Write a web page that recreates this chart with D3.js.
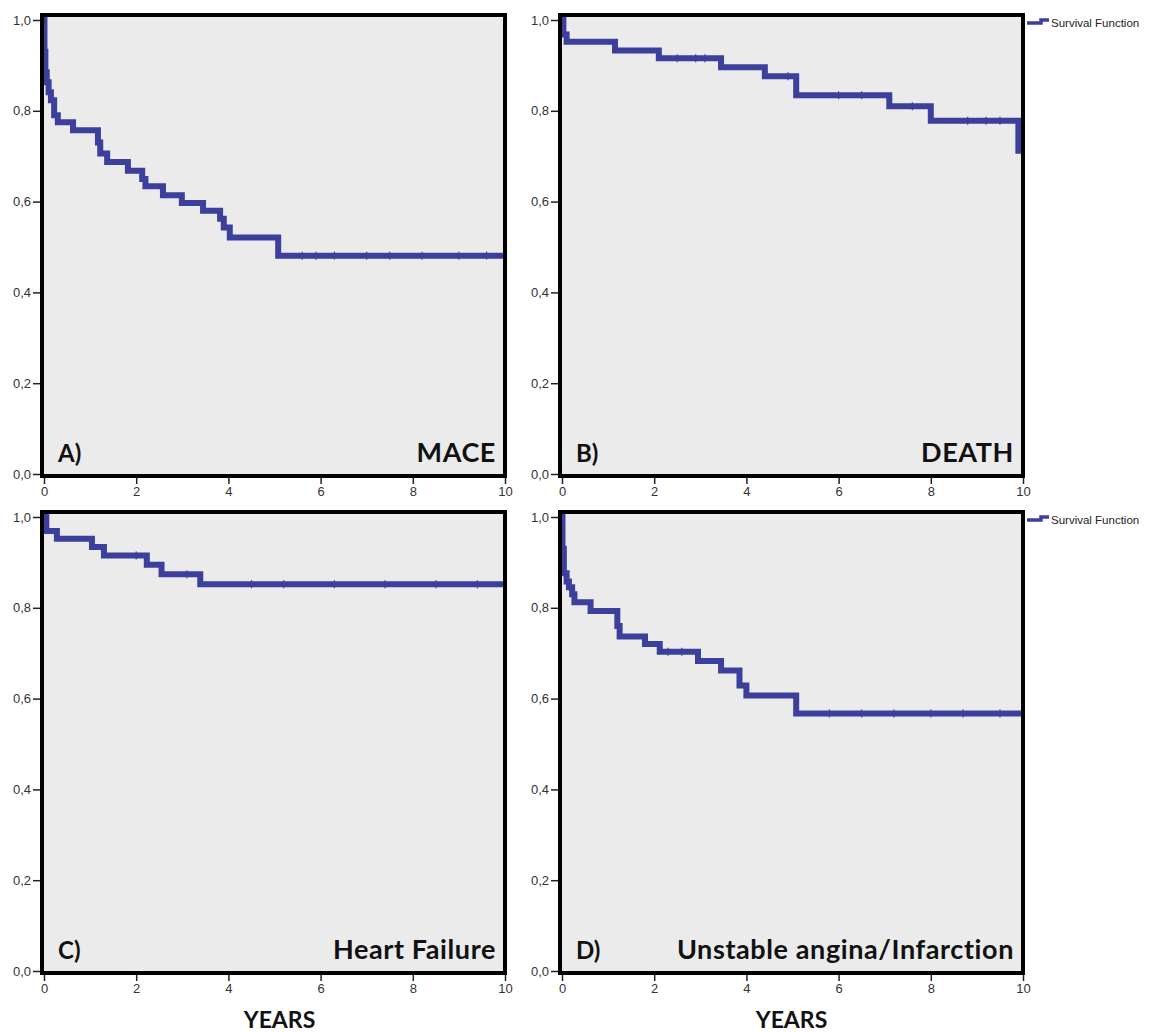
<!DOCTYPE html>
<html>
<head>
<meta charset="utf-8">
<script src="https://cdn.jsdelivr.net/npm/d3@7"></script>
<style>
  body { margin: 0; background: #fff; }
  svg { display: block; }
</style>
</head>
<body>
<svg id="chart" width="1150" height="1032"></svg>
<script>
// Kaplan-Meier steps: time (years) and survival after that time
const maceTimes = [0, 0.01, 0.03, 0.06, 0.1, 0.15, 0.22, 0.3, 0.63, 1.17, 1.22, 1.37, 1.82, 2.13, 2.2, 2.58, 2.99, 3.45, 3.82, 3.9, 4.03, 5.08];
const maceSurv  = [1.0, 0.93, 0.885, 0.863, 0.841, 0.823, 0.79, 0.775, 0.757, 0.73, 0.706, 0.687, 0.668, 0.65, 0.634, 0.614, 0.597, 0.58, 0.562, 0.543, 0.521, 0.481];
const maceCens  = [5.6, 5.9, 6.3, 7.0, 7.5, 8.2, 9.0, 9.6];

const deathTimes = [0, 0.03, 0.1, 1.15, 2.1, 3.45, 4.4, 5.08, 7.1, 8.0, 9.9];
const deathSurv  = [1.0, 0.968, 0.952, 0.933, 0.916, 0.896, 0.876, 0.834, 0.81, 0.778, 0.712];
const deathCens  = [2.5, 2.9, 3.1, 4.9, 6.0, 6.5, 7.6, 8.8, 9.2, 9.5];

const hfTimes = [0, 0.05, 0.28, 1.04, 1.3, 2.23, 2.55, 3.39];
const hfSurv  = [1.0, 0.969, 0.952, 0.934, 0.915, 0.895, 0.874, 0.852];
const hfCens  = [2.0, 3.1, 4.5, 5.2, 6.3, 7.4, 8.5, 9.4];

const uaTimes = [0, 0.01, 0.04, 0.1, 0.15, 0.22, 0.27, 0.62, 1.2, 1.25, 1.8, 2.12, 2.95, 3.45, 3.85, 4.0, 5.08];
const uaSurv  = [1.0, 0.93, 0.876, 0.858, 0.845, 0.83, 0.812, 0.793, 0.76, 0.737, 0.72, 0.703, 0.683, 0.662, 0.629, 0.607, 0.567];
const uaCens  = [2.3, 2.6, 5.8, 6.5, 7.2, 8.0, 8.7, 9.5];

const xTicks = [0, 2, 4, 6, 8, 10];
const yTicks = [0, 0.2, 0.4, 0.6, 0.8, 1.0];
const panelLetters = ["A)", "B)", "C)", "D)"];
const panelTitles = ["MACE", "DEATH", "Heart Failure", "Unstable angina/Infarction"];
const legendLabel = "Survival Function";
const xTitle = "YEARS";

const panels = [
    {times: maceTimes, surv: maceSurv, cens: maceCens, col: 0, row: 0, legend: false},
    {times: deathTimes, surv: deathSurv, cens: deathCens, col: 1, row: 0, legend: true},
    {times: hfTimes, surv: hfSurv, cens: hfCens, col: 0, row: 1, legend: false},
    {times: uaTimes, surv: uaSurv, cens: uaCens, col: 1, row: 1, legend: true}
];

const svg = d3.select("#chart");
const colX = [42, 560], rowY = [15, 512];
const pw = 463, ph = 461;
const blue = "#3c3f9c";
const tickFont = "13px 'Liberation Sans', Arial, sans-serif";
const titleFont = "bold 27px Lato, 'Open Sans', sans-serif";
const fmt = v => d3.format(".1f")(v).replace(".", ",");

panels.forEach(function(p, i) {
    const left = colX[p.col], top = rowY[p.row];
    const x = d3.scaleLinear().domain([0, 10]).range([2, pw]);
    const y = d3.scaleLinear().domain([0, 1]).range([ph - 2, 5]);
    const g = svg.append("g").attr("transform", "translate(" + left + "," + top + ")");

    g.append("rect")
        .attr("width", pw).attr("height", ph)
        .attr("fill", "#ebebeb");

    const pts = p.times.map((t, k) => [t, p.surv[k]]);
    pts.push([10, p.surv[p.surv.length - 1]]);

    const line = d3.line()
        .curve(d3.curveStepAfter)
        .x(d => x(d[0]))
        .y(d => y(d[1]));

    g.append("path")
        .datum(pts)
        .attr("d", line)
        .attr("fill", "none")
        .attr("stroke", blue)
        .attr("stroke-width", 6)
        .attr("stroke-linejoin", "miter");

    // censored marks
    const survAt = t => { let s = 1; p.times.forEach((tt, k) => { if (tt <= t) s = p.surv[k]; }); return s; };
    g.selectAll(".cens").data(p.cens).enter().append("line")
        .attr("x1", d => x(d)).attr("x2", d => x(d))
        .attr("y1", d => y(survAt(d)) - 4).attr("y2", d => y(survAt(d)) + 4)
        .attr("stroke", blue).attr("stroke-width", 1.2);

    // frame
    g.append("rect")
        .attr("width", pw).attr("height", ph)
        .attr("fill", "none")
        .attr("stroke", "#000")
        .attr("stroke-width", 4);

    const yAxis = g.append("g")
        .call(d3.axisLeft(y).tickValues(yTicks).tickFormat(fmt).tickSize(7).tickPadding(2));
    yAxis.select(".domain").remove();
    yAxis.selectAll("line").attr("stroke", "#222").attr("stroke-width", 1.5).attr("transform", "translate(-2,0)");
    yAxis.selectAll("text").style("font", tickFont).attr("fill", "#333").attr("dx", "-2");

    const xAxis = g.append("g")
        .attr("transform", "translate(0," + (ph + 2) + ")")
        .call(d3.axisBottom(x).tickValues(xTicks).tickFormat(d3.format("d")).tickSize(6).tickPadding(3));
    xAxis.select(".domain").remove();
    xAxis.selectAll("line").attr("stroke", "#222").attr("stroke-width", 1.5);
    xAxis.selectAll("text").style("font", tickFont).attr("fill", "#333");

    g.append("text")
        .attr("x", 16).attr("y", ph - 14)
        .style("font", "bold 24px Lato, 'Open Sans', sans-serif")
        .attr("fill", "#111")
        .text(panelLetters[i]);

    g.append("text")
        .attr("x", pw - 9).attr("y", ph - 14)
        .attr("text-anchor", "end")
        .style("font", titleFont)
        .style("letter-spacing", "0.6px")
        .attr("fill", "#111")
        .text(panelTitles[i]);

    if (p.legend) {
        const lg = svg.append("g").attr("transform", "translate(" + (left + pw + 4) + "," + (top + 8) + ")");
        lg.append("path")
            .attr("d", d3.line().curve(d3.curveStepAfter)([[0, 0], [14, -3], [22, -3]]))
            .attr("fill", "none").attr("stroke", blue).attr("stroke-width", 3.5);
        lg.append("text")
            .attr("x", 24).attr("y", 4)
            .style("font", "11.5px 'Liberation Sans', Arial, sans-serif")
            .attr("fill", "#222")
            .text(legendLabel);
    }
});

const titleShift = [6, 0];
[0, 1].forEach(function(c) {
    svg.append("text")
        .attr("x", colX[c] + pw / 2 + titleShift[c]).attr("y", 1028)
        .attr("text-anchor", "middle")
        .style("font", "bold 23px Lato, 'Open Sans', sans-serif")
        .attr("fill", "#111")
        .text(xTitle);
});
</script>
</body>
</html>
